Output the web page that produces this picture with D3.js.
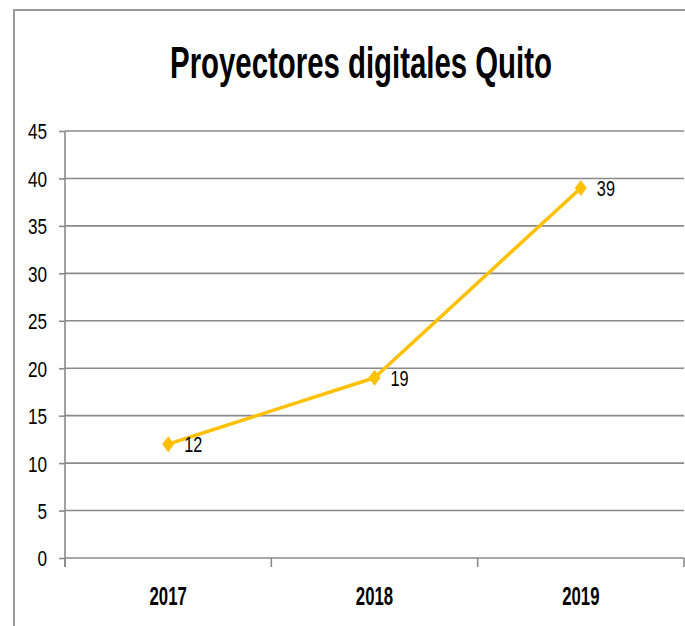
<!DOCTYPE html>
<html>
<head>
<meta charset="utf-8">
<script src="https://cdn.jsdelivr.net/npm/d3@7"></script>
<style>
  html, body { margin: 0; padding: 0; background: #fff; }
  svg { display: block; }
  text { font-family: "Liberation Sans", Arial, sans-serif; }
</style>
</head>
<body>
<svg id="chart" width="685" height="626"></svg>
<script>
const title = "Proyectores digitales Quito";
const categories = ["2017", "2018", "2019"];
const values = [12, 19, 39];
const yTicks = [0, 5, 10, 15, 20, 25, 30, 35, 40, 45];

const svg = d3.select("#chart");
const W = 685, H = 626;
const plot = { left: 65, right: 684, top: 131, bottom: 558 };

// outer chart border
svg.append("rect")
  .attr("x", 14).attr("y", 10)
  .attr("width", W + 20).attr("height", H + 20)
  .attr("fill", "#fff").attr("stroke", "#9a9a9a").attr("stroke-width", 2);

const x = d3.scaleBand().domain(categories).range([plot.left, plot.right]);
const y = d3.scaleLinear().domain([0, 45]).range([plot.bottom, plot.top]);

// condense helper
function condense(sel, k) {
  sel.each(function () {
    const len = this.getComputedTextLength();
    d3.select(this).attr("textLength", len * k).attr("lengthAdjust", "spacingAndGlyphs");
  });
}

// title (horizontally condensed via transform)
const titleG = svg.append("g").attr("transform", "translate(361,78)");
const titleT = titleG.append("text")
  .attr("x", 0).attr("y", 0)
  .attr("text-anchor", "middle")
  .attr("font-size", 45).attr("font-weight", "bold")
  .attr("fill", "#000")
  .text(title);
const tw = titleT.node().getComputedTextLength();
titleG.attr("transform", `translate(361,78) scale(${382 / tw},1)`);

// gridlines
svg.append("g").selectAll("line")
  .data(yTicks)
  .join("line")
  .attr("x1", plot.left).attr("x2", plot.right)
  .attr("y1", d => y(d)).attr("y2", d => y(d))
  .attr("stroke", "#8a8a8a").attr("stroke-width", 1.6);

// y axis
const yAxis = svg.append("g")
  .attr("transform", `translate(${plot.left},0)`)
  .call(d3.axisLeft(y).tickValues(yTicks).tickSize(6).tickSizeOuter(0).tickPadding(12));
yAxis.select(".domain").attr("stroke", "#8a8a8a").attr("stroke-width", 1.6)
  .attr("d", `M0,${plot.top}V${plot.bottom + 9}`);
yAxis.selectAll(".tick line").attr("stroke", "#8a8a8a").attr("stroke-width", 1.6);
yAxis.selectAll(".tick text")
  .attr("font-family", "Liberation Sans, Arial, sans-serif")
  .attr("font-size", 22).attr("fill", "#000")
  .attr("dy", "0.36em");
condense(yAxis.selectAll(".tick text"), 0.78);

// x axis (category labels)
const xAxis = svg.append("g")
  .attr("transform", `translate(0,${plot.bottom})`)
  .call(d3.axisBottom(x).tickSize(0).tickSizeOuter(0).tickPadding(47));
xAxis.select(".domain").remove();
xAxis.selectAll(".tick text")
  .attr("font-family", "Liberation Sans, Arial, sans-serif")
  .attr("font-size", 25).attr("font-weight", "bold").attr("fill", "#000")
  .attr("dy", 0);
condense(xAxis.selectAll(".tick text"), 0.67);

// category boundary tick marks
const bounds = categories.map(c => x(c)).concat([x(categories[categories.length - 1]) + x.bandwidth()]);
svg.append("g").selectAll("line")
  .data(bounds)
  .join("line")
  .attr("x1", d => d).attr("x2", d => d)
  .attr("y1", plot.bottom).attr("y2", plot.bottom + 9)
  .attr("stroke", "#8a8a8a").attr("stroke-width", 1.6);

const data = categories.map((c, i) => ({ c, v: values[i] }));
const cx = d => x(d.c) + x.bandwidth() / 2;

// line
svg.append("path")
  .datum(data)
  .attr("fill", "none")
  .attr("stroke", "#FFC000").attr("stroke-width", 3.5)
  .attr("stroke-linejoin", "round")
  .attr("d", d3.line().x(cx).y(d => y(d.v)));

// diamond markers
svg.append("g").selectAll("path")
  .data(data)
  .join("path")
  .attr("transform", d => `translate(${cx(d)},${y(d.v)})`)
  .attr("d", "M0,-8L6,0L0,8L-6,0Z")
  .attr("fill", "#FFC000");

// data labels
const labels = svg.append("g").selectAll("text")
  .data(data)
  .join("text")
  .attr("x", d => cx(d) + 16)
  .attr("y", d => y(d.v) + 8)
  .attr("font-size", 22).attr("fill", "#000")
  .text(d => d.v);
condense(labels, 0.74);
</script>
</body>
</html>
